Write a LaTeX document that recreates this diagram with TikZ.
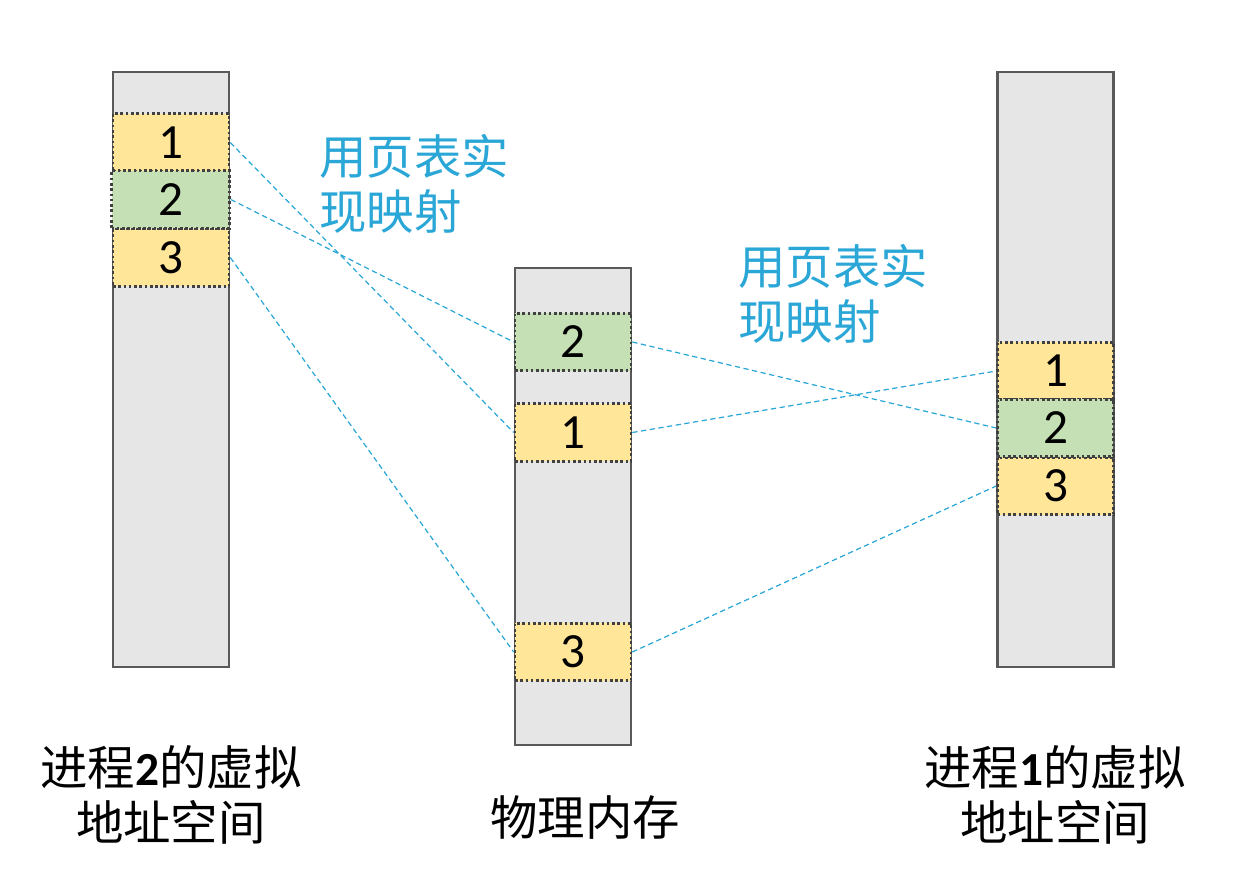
\documentclass[tikz,border=0pt]{standalone}
\usepackage{fontspec}
\setmainfont{Carlito}
\newfontfamily\cjk{Noto Sans CJK SC}
\definecolor{colfill}{HTML}{E6E6E6}
\definecolor{colline}{HTML}{595959}
\definecolor{dotline}{HTML}{404040}
\definecolor{pageyellow}{HTML}{FFE699}
\definecolor{pagegreen}{HTML}{C5E0B4}
\definecolor{mapcyan}{HTML}{2AA7D6}
\tikzset{
  column/.style={draw=colline, fill=colfill, line width=1.5pt, minimum width=2.32cm, inner sep=0pt},
  page/.style={draw=dotline, line width=1.5pt, dash pattern=on 1.5pt off 1.5pt, minimum width=2.32cm, minimum height=1.15cm, inner sep=0pt, font=\fontsize{28}{32}\selectfont},
  yellowpage/.style={page, fill=pageyellow},
  greenpage/.style={page, fill=pagegreen},
  map/.style={draw=mapcyan, line width=0.7pt, dash pattern=on 3pt off 2pt},
  note/.style={text=mapcyan, align=left, anchor=west, font=\cjk\fontsize{27}{31}\selectfont},
  caption/.style={align=center, font=\cjk\fontsize{27}{31}\selectfont}
}
\begin{document}
\begin{tikzpicture}[x=0.02cm, y=-0.02cm]
\useasboundingbox (0,0) rectangle (1242,877);
            % columns
            \node (vleft) [column, minimum height=11.9cm] at (171,369.5) {};
            \node (phys) [column, minimum height=9.54cm] at (573,506.5) {};
            \node (vright) [column, minimum height=11.9cm] at (1055.5,369.5) {};

            % process 2 pages
            \node (l1) [yellowpage] at (171,142.5) {1};
            \node (l3) [yellowpage] at (171,257.5) {3};
            \node (l2) [greenpage, minimum width=2.36cm] at (170.5,199.5) {2};

            % physical memory pages
            \node (m2) [greenpage] at (573,342) {2};
            \node (m1) [yellowpage] at (573,432.5) {1};
            \node (m3) [yellowpage] at (573,652) {3};

            % process 1 pages
            \node (r1) [yellowpage] at (1055.5,371) {1};
            \node (r3) [yellowpage] at (1055.5,486) {3};
            \node (r2) [greenpage] at (1055.5,428) {2};

            \path[map]
            (l1.east) edge (m1.west)
            (l2.east) edge (m2.west)
            (l3.east) edge (m3.west)
            (m2.east) edge (r2.west)
            (m1.east) edge (r1.west)
            (m3.east) edge (r3.west);

            % labels
            \node (noteleft) [note] at (313,184) {用页表实\\现映射};
            \node (noteright) [note] at (732,294) {用页表实\\现映射};
            \node (capleft) [caption] at (171,795) {进程{\rmfamily\bfseries 2}的虚拟\\地址空间};
            \node (capmid) [caption] at (585,818) {物理内存};
            \node (capright) [caption] at (1055,795) {进程{\rmfamily\bfseries 1}的虚拟\\地址空间};
\end{tikzpicture}
\end{document}
